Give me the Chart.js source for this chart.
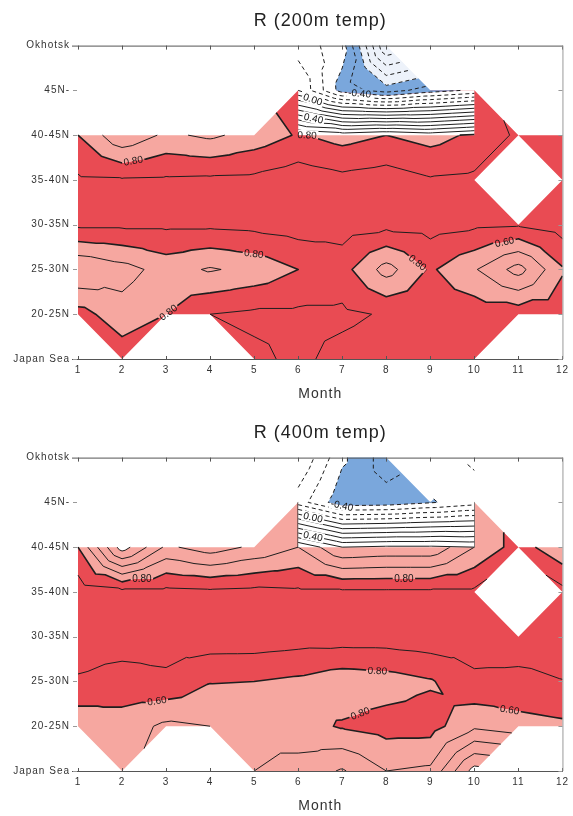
<!DOCTYPE html>
<html>
<head>
<meta charset="utf-8">
<script src="https://cdn.jsdelivr.net/npm/chart.js@4.4.1/dist/chart.umd.min.js"></script>
<style>
  html, body { margin: 0; padding: 0; background: #fff; }
  #wrap { position: relative; width: 573px; height: 816px; overflow: hidden; }
  canvas { position: absolute; left: 0; }
  #c200 { top: 0; }
  #c400 { top: 412px; }
</style>
</head>
<body>
<div id="wrap">
  <canvas id="c200" width="573" height="412"></canvas>
  <canvas id="c400" width="573" height="404"></canvas>
</div>
<script>
const months = [1, 2, 3, 4, 5, 6, 7, 8, 9, 10, 11, 12];
const regions = ['Japan Sea', '20-25N', '25-30N', '30-35N', '35-40N', '40-45N', '45N-', 'Okhotsk'];
const contourLevels = [-0.9, -0.8, -0.7, -0.6, -0.5, -0.4, -0.3, -0.2, -0.1, 0, 0.1, 0.2, 0.3, 0.4, 0.5, 0.6, 0.7, 0.8, 0.9];

// correlation R, rows from Japan Sea (0) up to Okhotsk (7), months 1..12
const r200 = [
  [null, 0.86, null, null, 0.88, 0.92, 0.87, 0.85, 0.85, 0.85, null, null],
  [0.84, 0.74, 0.80, 0.90, 0.92, 0.92, 0.92, 0.89, 0.86, 0.86, 0.86, 0.86],
  [0.60, 0.66, 0.74, 0.69, 0.73, 0.80, 0.84, 0.66, 0.815, 0.71, 0.56, 0.79],
  [0.92, 0.92, 0.92, 0.92, 0.93, 0.95, 0.95, 0.93, 0.94, 0.92, 0.91, 0.95],
  [0.915, 0.91, 0.915, 0.92, 0.925, 0.96, 0.93, 0.95, 0.91, 0.92, null, 0.95],
  [0.80, 0.62, 0.72, 0.68, 0.74, 0.81, 0.76, 0.80, 0.76, 0.82, 0.92, 0.92],
  [null, null, null, null, null, 0.86, 0.86, 0.86, 0.86, 0.86, null, null],
  [null, null, null, null, null, null, null, null, null, null, null, null]
];
// northern box (months 6-10) drawn on top
const r200north = [
  [null, null, null, null, null, null, null, null, null, null, null, null],
  [null, null, null, null, null, null, null, null, null, null, null, null],
  [null, null, null, null, null, null, null, null, null, null, null, null],
  [null, null, null, null, null, null, null, null, null, null, null, null],
  [null, null, null, null, null, null, null, null, null, null, null, null],
  [null, null, null, null, null, 0.81, 0.76, 0.80, 0.76, 0.82, null, null],
  [null, null, null, null, null, -0.10, -0.45, -0.55, -0.45, -0.38, null, null],
  [null, null, null, null, null, -0.25, -0.35, -1.00, null, null, null, null]
];

const r400 = [
  [null, 0.72, null, null, 0.70, 0.66, 0.59, 0.70, 0.68, 0.36, null, null],
  [0.725, 0.75, 0.68, 0.70, 0.72, 0.76, 0.81, 0.84, 0.84, 0.72, 0.76, 0.78],
  [0.892, 0.867, 0.882, 0.805, 0.80, 0.78, 0.74, 0.755, 0.79, 0.88, 0.88, 0.898],
  [0.94, 0.94, 0.94, 0.96, 0.96, 0.947, 0.95, 0.95, 0.965, 0.95, 0.94, 0.94],
  [0.96, 0.93, 0.93, 0.92, 0.93, 0.92, 0.92, 0.92, 0.92, 0.92, null, 0.93],
  [0.80, 0.35, 0.62, 0.55, 0.62, 0.70, 0.50, 0.52, 0.52, 0.70, 0.85, 0.72],
  [null, null, null, null, null, 0.70, 0.70, 0.70, 0.70, 0.70, null, null],
  [null, null, null, null, null, null, null, null, null, null, null, null]
];
const r400north = [
  [null, null, null, null, null, null, null, null, null, null, null, null],
  [null, null, null, null, null, null, null, null, null, null, null, null],
  [null, null, null, null, null, null, null, null, null, null, null, null],
  [null, null, null, null, null, null, null, null, null, null, null, null],
  [null, null, null, null, null, null, null, null, null, null, null, null],
  [null, null, null, null, null, 0.70, 0.50, 0.52, 0.52, 0.50, null, null],
  [null, null, null, null, null, -0.25, -0.47, -0.46, -0.41, -0.35, null, null],
  [null, null, null, null, null, -0.10, -0.38, -0.55, null, -0.28, null, null]
];

// contour labels: which line, roughly where, and the printed text
const labels200 = [
  { layer: 'base', level: 0.8, x: 2.25, y: 4.45, text: '0.80' },
  { layer: 'base', level: 0.8, x: 5.0, y: 2.4, text: '0.80' },
  { layer: 'base', level: 0.8, x: 8.75, y: 2.2, text: '0.80' },
  { layer: 'base', level: 0.8, x: 10.7, y: 2.55, text: '0.60' },
  { layer: 'base', level: 0.8, x: 2.7, y: 1.5, text: '0.80' },
  { layer: 'north', level: 0.8, x: 6.35, y: 5.03, text: '0.80' },
  { layer: 'north', level: 0.4, x: 6.35, y: 5.38, text: '0.40' },
  { layer: 'north', level: 0, x: 6.35, y: 5.85, text: '0.00' },
  { layer: 'north', level: -0.4, x: 7.4, y: 6.0, text: '-0.40' }
];
const labels400 = [
  { layer: 'base', level: 0.8, x: 2.45, y: 4.35, text: '0.80' },
  { layer: 'base', level: 0.8, x: 8.4, y: 4.4, text: '0.80' },
  { layer: 'base', level: 0.8, x: 7.8, y: 2.3, text: '0.80' },
  { layer: 'base', level: 0.8, x: 2.8, y: 1.5, text: '0.60' },
  { layer: 'base', level: 0.8, x: 7.4, y: 1.3, text: '0.80' },
  { layer: 'base', level: 0.8, x: 10.8, y: 1.35, text: '0.60' },
  { layer: 'north', level: 0.4, x: 6.35, y: 5.3, text: '0.40' },
  { layer: 'north', level: 0, x: 6.35, y: 5.72, text: '0.00' },
  { layer: 'north', level: -0.4, x: 7.0, y: 5.95, text: '-0.40' }
];

const FONT = "'Liberation Sans', Arial, sans-serif";
const RED = '#e94b53';
const SALMON = '#f6a7a0';
const BLUE = '#7aa7dc';
const PALE = '#edf2fa';

const baseBands = [
  { lo: 0.8, hi: 9, color: RED },
  { lo: 0.4, hi: 0.8, color: SALMON }
];
const northBands = [
  { lo: -0.4, hi: 9, color: '#ffffff' },
  { lo: -0.6, hi: -0.4, color: BLUE },
  { lo: -9, hi: -0.6, color: PALE }
];

function orient(t) {
  const [a, b, c] = t;
  const area = (b.x - a.x) * (c.y - a.y) - (b.y - a.y) * (c.x - a.x);
  return area < 0 ? [a, c, b] : t;
}

// split every cell in 4 triangles around its centre; a cell with one missing corner keeps one triangle
function triangles(grid, xs, ys) {
  const out = [];
  for (let j = 0; j < grid.length - 1; j++) {
    for (let i = 0; i < months.length - 1; i++) {
      const corners = [[i, j], [i + 1, j], [i + 1, j + 1], [i, j + 1]].map(([a, b]) => ({
        x: xs.getPixelForValue(months[a]),
        y: ys.getPixelForValue(b),
        v: grid[b][a]
      }));
      const have = corners.filter(p => p.v !== null);
      if (have.length === 4) {
        const mid = {
          x: (corners[0].x + corners[2].x) / 2,
          y: (corners[0].y + corners[2].y) / 2,
          v: (corners[0].v + corners[1].v + corners[2].v + corners[3].v) / 4
        };
        for (let k = 0; k < 4; k++) out.push(orient([corners[k], corners[(k + 1) % 4], mid]));
      } else if (have.length === 3) {
        out.push(orient(have));
      }
    }
  }
  return out;
}

function clip(poly, t, keepAbove) {
  const inside = p => keepAbove ? p.v >= t : p.v < t;
  const out = [];
  for (let k = 0; k < poly.length; k++) {
    const a = poly[k], b = poly[(k + 1) % poly.length];
    if (inside(a)) out.push(a);
    if (inside(a) !== inside(b)) {
      const s = (t - a.v) / (b.v - a.v);
      out.push({ x: a.x + s * (b.x - a.x), y: a.y + s * (b.y - a.y), v: t });
    }
  }
  return out;
}

function fillBands(ctx, tris, bands) {
  bands.forEach(band => {
    ctx.beginPath();
    tris.forEach(t => {
      const p = clip(clip(t, band.lo, true), band.hi, false);
      if (p.length < 3) return;
      ctx.moveTo(p[0].x, p[0].y);
      for (let k = 1; k < p.length; k++) ctx.lineTo(p[k].x, p[k].y);
      ctx.closePath();
    });
    ctx.fillStyle = band.color;
    ctx.fill();
  });
}

function segments(tris, level) {
  const segs = [];
  tris.forEach(t => {
    const pts = [];
    for (let k = 0; k < 3; k++) {
      let a = t[k], b = t[(k + 1) % 3];
      if (a.x > b.x || (a.x === b.x && a.y > b.y)) [a, b] = [b, a];
      if ((a.v < level) !== (b.v < level)) {
        const s = (level - a.v) / (b.v - a.v);
        pts.push({ x: a.x + s * (b.x - a.x), y: a.y + s * (b.y - a.y) });
      }
    }
    if (pts.length === 2) segs.push(pts);
  });
  return segs;
}

function chain(segs) {
  const key = p => p.x.toFixed(2) + ',' + p.y.toFixed(2);
  const ends = new Map();
  segs.forEach((s, i) => {
    [0, 1].forEach(e => {
      const k = key(s[e]);
      if (!ends.has(k)) ends.set(k, []);
      ends.get(k).push([i, e]);
    });
  });
  const used = segs.map(() => false);
  const extend = (line, start) => {
    let cur = start;
    for (;;) {
      const cand = (ends.get(key(cur)) || []).find(([i]) => !used[i]);
      if (!cand) break;
      const [i, e] = cand;
      used[i] = true;
      cur = segs[i][1 - e];
      line.push(cur);
    }
  };
  const lines = [];
  segs.forEach((s, i) => {
    if (used[i]) return;
    used[i] = true;
    const fwd = [s[0], s[1]];
    extend(fwd, s[1]);
    const back = [];
    extend(back, s[0]);
    lines.push(back.reverse().concat(fwd));
  });
  return lines;
}

function placeLabel(ctx, spec, segs, xs, ys) {
  const px = xs.getPixelForValue(spec.x), py = ys.getPixelForValue(spec.y);
  let best = { x: px, y: py, ang: 0 }, bd = Infinity;
  (segs || []).forEach(([a, b]) => {
    const dx = b.x - a.x, dy = b.y - a.y, len2 = dx * dx + dy * dy || 1;
    const s = Math.max(0, Math.min(1, ((px - a.x) * dx + (py - a.y) * dy) / len2));
    const qx = a.x + s * dx, qy = a.y + s * dy;
    const d = (qx - px) ** 2 + (qy - py) ** 2;
    if (d < bd) { bd = d; best = { x: qx, y: qy, ang: Math.atan2(dy, dx) }; }
  });
  let ang = best.ang;
  if (ang > Math.PI / 2) ang -= Math.PI;
  if (ang < -Math.PI / 2) ang += Math.PI;
  ctx.font = '10px ' + FONT;
  const w = ctx.measureText(spec.text).width;
  return { x: best.x, y: best.y, ang, w: w + 3, h: 10, text: spec.text };
}

function clipOut(ctx, placed) {
  ctx.beginPath();
  ctx.rect(0, 0, ctx.canvas.width, ctx.canvas.height);
  placed.forEach(p => {
    const c = Math.cos(p.ang), s = Math.sin(p.ang);
    const pts = [[-p.w / 2, -p.h / 2], [p.w / 2, -p.h / 2], [p.w / 2, p.h / 2], [-p.w / 2, p.h / 2]]
      .map(([u, v]) => [p.x + u * c - v * s, p.y + u * s + v * c]);
    ctx.moveTo(pts[0][0], pts[0][1]);
    pts.slice(1).forEach(q => ctx.lineTo(q[0], q[1]));
    ctx.closePath();
  });
  ctx.clip('evenodd');
}

function strokeLines(ctx, byLevel) {
  contourLevels.forEach(L => {
    const lines = chain(byLevel[L]);
    if (!lines.length) return;
    ctx.beginPath();
    lines.forEach(line => {
      ctx.moveTo(line[0].x, line[0].y);
      line.slice(1).forEach(p => ctx.lineTo(p.x, p.y));
    });
    ctx.setLineDash(L < 0 ? [4, 3] : []);
    ctx.lineWidth = L === 0.8 ? 1.6 : 1;
    ctx.strokeStyle = '#1e1e1e';
    ctx.lineJoin = 'round';
    ctx.stroke();
  });
  ctx.setLineDash([]);
}

function makeContourPlugin(base, north, labels) {
  return {
    id: 'contour',
    beforeDraw(chart) {
      chart.ctx.letterSpacing = '1px';
    },
    beforeDatasetsDraw(chart) {
      const { ctx, scales: { x, y } } = chart;
      const baseTris = triangles(base, x, y);
      const northTris = triangles(north, x, y);
      const segs = { base: {}, north: {} };
      contourLevels.forEach(L => {
        segs.base[L] = segments(baseTris, L);
        segs.north[L] = segments(northTris, L);
      });
      ctx.save();
      ctx.letterSpacing = '0px';
      const placed = labels.map(l => placeLabel(ctx, l, segs[l.layer][l.level], x, y));

      fillBands(ctx, baseTris, baseBands);
      ctx.save();
      clipOut(ctx, placed);
      strokeLines(ctx, segs.base);
      ctx.restore();

      fillBands(ctx, northTris, northBands);
      ctx.save();
      clipOut(ctx, placed);
      strokeLines(ctx, segs.north);
      ctx.restore();

      ctx.font = '10px ' + FONT;
      ctx.fillStyle = '#151515';
      ctx.textAlign = 'center';
      ctx.textBaseline = 'middle';
      placed.forEach(p => {
        ctx.save();
        ctx.translate(p.x, p.y);
        ctx.rotate(p.ang);
        ctx.fillText(p.text, 0, 0.5);
        ctx.restore();
      });
      ctx.restore();
    },
    afterDraw(chart) {
      const { ctx, chartArea: { left, right, top, bottom }, scales: { x, y } } = chart;
      ctx.save();
      ctx.lineWidth = 1;
      ctx.strokeStyle = '#555';
      ctx.beginPath();
      ctx.moveTo(left - 6, top + 0.5); ctx.lineTo(right, top + 0.5);
      ctx.moveTo(left - 6, bottom + 0.5); ctx.lineTo(right, bottom + 0.5);
      months.forEach(m => {
        const px = Math.round(x.getPixelForValue(m)) + 0.5;
        ctx.moveTo(px, top); ctx.lineTo(px, top + 4);
        ctx.moveTo(px, bottom + 1); ctx.lineTo(px, bottom - 3);
      });
      ctx.stroke();
      ctx.strokeStyle = '#999';
      ctx.beginPath();
      ctx.moveTo(right + 0.5, top); ctx.lineTo(right + 0.5, bottom);
      regions.forEach((r, i) => {
        const py = Math.round(y.getPixelForValue(i)) + 0.5;
        ctx.moveTo(left - 5, py); ctx.lineTo(left - 1, py);
        ctx.moveTo(right - 4, py); ctx.lineTo(right, py);
      });
      ctx.stroke();
      ctx.restore();
    }
  };
}

function nodes(grid) {
  const pts = [];
  grid.forEach((row, j) => row.forEach((v, i) => { if (v !== null) pts.push({ x: months[i], y: j }); }));
  return pts;
}

function drawPanel(id, title, base, north, labels, padBottom) {
  new Chart(document.getElementById(id), {
    type: 'scatter',
    data: { datasets: [{ data: nodes(base), pointRadius: 0, showLine: false }] },
    options: {
      responsive: false,
      animation: false,
      devicePixelRatio: 1,
      layout: { padding: { top: 0, right: 8, bottom: padBottom, left: 0 } },
      plugins: {
        legend: { display: false },
        tooltip: { enabled: false },
        title: {
          display: true,
          text: title,
          fullSize: false,
          color: '#222',
          font: { family: FONT, size: 18, weight: 'normal' },
          padding: { top: 10, bottom: 14 }
        }
      },
      scales: {
        x: {
          type: 'linear',
          min: 1,
          max: 12,
          grid: { display: false, drawTicks: false },
          border: { display: false },
          ticks: { stepSize: 1, padding: 5, color: '#333', font: { family: FONT, size: 10 } },
          title: {
            display: true,
            text: 'Month',
            color: '#333',
            font: { family: FONT, size: 14 },
            padding: { top: 0, bottom: 1 }
          },
          afterFit: s => { s.height = 45; }
        },
        y: {
          type: 'linear',
          min: 0,
          max: 7,
          grid: { display: false, drawTicks: false },
          border: { display: false },
          ticks: {
            stepSize: 1,
            padding: 8,
            color: '#333',
            font: { family: FONT, size: 10 },
            callback: v => regions[v]
          },
          afterFit: s => { s.width = 78; }
        }
      }
    },
    plugins: [makeContourPlugin(base, north, labels)]
  });
}

drawPanel('c200', 'R (200m temp)', r200, r200north, labels200, 8);
drawPanel('c400', 'R (400m temp)', r400, r400north, labels400, 0);
</script>
</body>
</html>
